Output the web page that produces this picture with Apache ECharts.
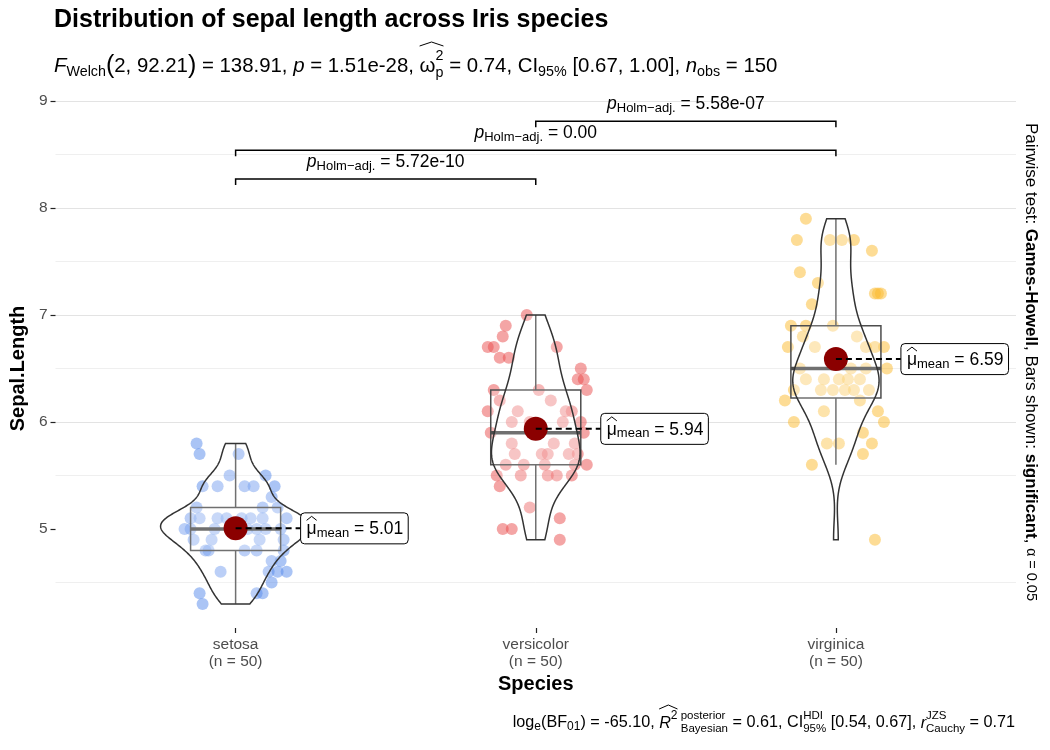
<!DOCTYPE html>
<html>
<head>
<meta charset="utf-8">
<title>Distribution of sepal length across Iris species</title>
<script src="https://cdn.jsdelivr.net/npm/echarts@6/dist/echarts.min.js"></script>
<style>
  html, body { margin: 0; padding: 0; background: #fff; }
  #main { width: 1050px; height: 750px; }
</style>
</head>
<body>
<div id="main"></div>
<script>
var species = ['setosa', 'versicolor', 'virginica'];

// Sepal.Length per species
var setosa = [5.1, 4.9, 4.7, 4.6, 5.0, 5.4, 4.6, 5.0, 4.4, 4.9, 5.4, 4.8, 4.8, 4.3, 5.8, 5.7, 5.4, 5.1, 5.7, 5.1,
  5.4, 5.1, 4.6, 5.1, 4.8, 5.0, 5.0, 5.2, 5.2, 4.7, 4.8, 5.4, 5.2, 5.5, 4.9, 5.0, 5.5, 4.9, 4.4, 5.1,
  5.0, 4.5, 4.4, 5.0, 5.1, 4.8, 5.1, 4.6, 5.3, 5.0];
var versicolor = [7.0, 6.4, 6.9, 5.5, 6.5, 5.7, 6.3, 4.9, 6.6, 5.2, 5.0, 5.9, 6.0, 6.1, 5.6, 6.7, 5.6, 5.8, 6.2, 5.6,
  5.9, 6.1, 6.3, 6.1, 6.4, 6.6, 6.8, 6.7, 6.0, 5.7, 5.5, 5.5, 5.8, 6.0, 5.4, 6.0, 6.7, 6.3, 5.6, 5.5,
  5.5, 6.1, 5.8, 5.0, 5.6, 5.7, 5.7, 6.2, 5.1, 5.7];
var virginica = [6.3, 5.8, 7.1, 6.3, 6.5, 7.6, 4.9, 7.3, 6.7, 7.2, 6.5, 6.4, 6.8, 5.7, 5.8, 6.4, 6.5, 7.7, 7.7, 6.0,
  6.9, 5.6, 7.7, 6.3, 6.7, 7.2, 6.2, 6.1, 6.4, 7.2, 7.4, 7.9, 6.4, 6.3, 6.1, 7.7, 6.3, 6.4, 6.0, 6.9,
  6.7, 6.9, 5.8, 6.8, 6.7, 6.7, 6.3, 6.5, 6.2, 5.9];

// horizontal jitter of each point (category units)
var jitSetosa = [0.05, -0.08, 0.12, 0.14, -0.02, 0.03, 0.11, -0.15, 0.09, 0.16, -0.06, -0.10, 0.07, -0.11, -0.13, 0.01, 0.13, -0.12, -0.12, 0.17,
  -0.11, 0.09, -0.05, -0.06, -0.09, 0.10, 0.04, 0.14, -0.13, 0.15, 0.03, 0.06, 0.09, -0.02, -0.14, -0.17, 0.10, 0.08, -0.12, 0.02,
  0.15, 0.12, 0.07, -0.07, -0.15, 0.16, -0.03, 0.17, 0.12, 0.07];
var jitVersicolor = [-0.03, 0.14, -0.10, 0.12, 0.15, 0.04, -0.14, 0.08, -0.12, -0.02, -0.11, 0.16, -0.08, 0.10, 0.13, -0.14, -0.04, 0.06, -0.12, 0.03,
  -0.15, -0.06, 0.17, 0.12, 0.16, -0.09, -0.11, 0.07, 0.09, 0.11, -0.13, 0.07, -0.08, -0.02, -0.12, 0.15, -0.16, 0.01, 0.17, 0.04,
  -0.05, -0.16, 0.13, -0.08, -0.10, 0.14, -0.07, 0.05, 0.08, 0.02];
var jitVirginica = [0.03, -0.03, -0.08, -0.14, 0.05, 0.12, 0.13, -0.06, 0.10, 0.14, -0.12, 0.01, -0.11, 0.09, 0.12, -0.04, 0.17, -0.13, 0.06, 0.16,
  -0.15, -0.08, -0.02, 0.11, -0.07, 0.13, -0.17, -0.04, 0.08, 0.15, -0.12, -0.10, -0.10, -0.01, 0.14, 0.02, 0.06, 0.04, -0.14, -0.01,
  0.13, -0.10, 0.01, 0.07, 0.16, -0.16, -0.05, 0.10, 0.08, 0.09];

var groups = [setosa, versicolor, virginica];
var jitters = [jitSetosa, jitVersicolor, jitVirginica];
var pointColors = ['#5589EB', '#E94B4B', '#FBB92B'];

// pairwise comparisons (Games-Howell, Holm adjusted)
var pairs = [[0, 1], [0, 2], [1, 2]];
var pairY = [8.27, 8.54, 8.81];
var pairP = ['5.72e-10', '0.00', '5.58e-07'];

var yTicks = [5, 6, 7, 8, 9];
var xTicks = [0, 1, 2];

var FONT = '"Liberation Sans", Arial, Helvetica, sans-serif';

// ---- statistics computed from the raw values ----
function sortNum(a) { return a.slice().sort(function (p, q) { return p - q; }); }
function quant(s, q) {
  var pos = (s.length - 1) * q, lo = Math.floor(pos), h = pos - lo;
  return lo + 1 < s.length ? s[lo] + h * (s[lo + 1] - s[lo]) : s[lo];
}
function mean(a) { var t = 0; a.forEach(function (v) { t += v; }); return t / a.length; }
function sd(a) {
  var m = mean(a), t = 0;
  a.forEach(function (v) { t += (v - m) * (v - m); });
  return Math.sqrt(t / (a.length - 1));
}

var means = groups.map(mean);
var boxes = groups.map(function (a) {
  var s = sortNum(a), q1 = quant(s, 0.25), q3 = quant(s, 0.75), iqr = q3 - q1;
  var lo = s.filter(function (v) { return v >= q1 - 1.5 * iqr; })[0];
  var inHi = s.filter(function (v) { return v <= q3 + 1.5 * iqr; });
  return { q1: q1, med: quant(s, 0.5), q3: q3, lo: lo, hi: inHi[inHi.length - 1] };
});

// gaussian kernel density, nrd0 bandwidth, trimmed to the data range
var violins = groups.map(function (a) {
  var s = sortNum(a), n = a.length;
  var spread = Math.min(sd(a), (quant(s, 0.75) - quant(s, 0.25)) / 1.34);
  var bw = 0.9 * spread * Math.pow(n, -0.2);
  var out = [], steps = 200;
  for (var k = 0; k <= steps; k++) {
    var y = s[0] + (s[n - 1] - s[0]) * k / steps, d = 0;
    for (var j = 0; j < n; j++) {
      var z = (y - s[j]) / bw;
      d += Math.exp(-0.5 * z * z);
    }
    out.push([y, d / (n * bw * Math.sqrt(2 * Math.PI))]);
  }
  return out;
});
var maxDens = 0;
violins.forEach(function (v) { v.forEach(function (p) { maxDens = Math.max(maxDens, p[1]); }); });

// ---- text with sub/superscripts laid out as separate pieces ----
var mctx = document.createElement('canvas').getContext('2d');
function mathRow(parts, x, y, color) {
  var els = [], pos = [], cx = x, prev = null;
  color = color || '#000';
  parts.forEach(function (p) {
    var font = (p.it ? 'italic ' : '') + (p.b ? 'bold ' : '') + p.s + 'px ' + FONT;
    mctx.font = font;
    var w = mctx.measureText(p.t).width, px = cx;
    if (p.stack && prev) { px = prev.x; cx = prev.x + Math.max(prev.w, w); }
    else { cx = px + w; }
    els.push({
      type: 'text', x: px, y: y + (p.dy || 0),
      style: { text: p.t, font: font, fill: color, textAlign: 'left', textVerticalAlign: 'middle', align: 'left', verticalAlign: 'middle' }
    });
    pos.push({ x: px, w: w });
    prev = { x: px, w: w };
  });
  parts.forEach(function (p, k) {
    if (!p.hat) return;
    var x0 = pos[k].x, x1 = pos[k].x + pos[k].w;
    for (var j = k + 1; j < k + p.hat; j++) x1 = Math.max(x1, pos[j].x + pos[j].w);
    var yb = y + p.hy;
    els.push({
      type: 'polyline',
      shape: { points: [[x0, yb], [(x0 + x1) / 2, yb - 4], [x1, yb]] },
      style: { stroke: color, fill: 'none', lineWidth: 1 }
    });
  });
  return { els: els, width: cx - x };
}
function shiftEls(els, dx) {
  els.forEach(function (e) {
    if (e.type === 'text') e.x += dx;
    else e.shape.points.forEach(function (pt) { pt[0] += dx; });
  });
}

var titleRow = mathRow([{ t: 'Distribution of sepal length across Iris species', s: 25, b: 1 }], 54, 20);

var subRow = mathRow([
  { t: 'F', s: 20.4, it: 1 },
  { t: 'Welch', s: 14.3, dy: 6 },
  { t: '(', s: 25 },
  { t: '2, 92.21', s: 20.4 },
  { t: ')', s: 25 },
  { t: ' = 138.91, ', s: 20.4 },
  { t: 'p', s: 20.4, it: 1 },
  { t: ' = 1.51e-28, ', s: 20.4 },
  { t: 'ω', s: 20.4, hat: 3, hy: -20 },
  { t: '2', s: 14.3, dy: -10 },
  { t: 'p', s: 14.3, dy: 7, stack: 1 },
  { t: ' = 0.74, CI', s: 20.4 },
  { t: '95%', s: 14.3, dy: 6 },
  { t: ' [0.67, 1.00], ', s: 20.4 },
  { t: 'n', s: 20.4, it: 1 },
  { t: 'obs', s: 14.3, dy: 6 },
  { t: ' = 150', s: 20.4 }
], 54, 66);

var capRow = mathRow([
  { t: 'log', s: 16.2 },
  { t: 'e', s: 12, dy: 4 },
  { t: '(BF', s: 16.2 },
  { t: '01', s: 12, dy: 4 },
  { t: ') = -65.10, ', s: 16.2 },
  { t: 'R', s: 16.2, it: 1, hat: 2, hy: -14 },
  { t: '2', s: 12, dy: -7 },
  { t: ' posterior', s: 11.5, dy: -7 },
  { t: ' Bayesian', s: 11.5, dy: 6, stack: 1 },
  { t: ' = 0.61, CI', s: 16.2 },
  { t: 'HDI', s: 11.5, dy: -7 },
  { t: '95%', s: 11.5, dy: 6, stack: 1 },
  { t: ' [0.54, 0.67], ', s: 16.2 },
  { t: 'r', s: 16.2, it: 1 },
  { t: 'JZS', s: 11.5, dy: -7 },
  { t: 'Cauchy', s: 11.5, dy: 6, stack: 1 },
  { t: ' = 0.71', s: 16.2 }
], 0, 723);
shiftEls(capRow.els, 1015 - capRow.width);

var sideRow = mathRow([
  { t: 'Pairwise test: ', s: 17 },
  { t: 'Games-Howell', s: 17, b: 1 },
  { t: ', Bars shown: ', s: 17 },
  { t: 'significant', s: 17, b: 1 },
  { t: ', ', s: 17 },
  { t: 'α', s: 14 },
  { t: ' = 0.05', s: 14.5 }
], 0, 0);

function meanParts(m) {
  return [
    { t: 'μ', s: 17.5, hat: 1, hy: -9 },
    { t: 'mean', s: 13, dy: 4 },
    { t: ' = ' + m.toFixed(2), s: 17.5 }
  ];
}
function pParts(p) {
  return [
    { t: 'p', s: 17.5, it: 1 },
    { t: 'Holm\u2212adj.', s: 13, dy: 4 },
    { t: ' = ' + p, s: 17.5 }
  ];
}

// ---- series data ----
var pointSeries = groups.map(function (vals, g) {
  return {
    type: 'scatter',
    name: species[g],
    symbolSize: 12,
    z: 1,
    itemStyle: { color: pointColors[g], opacity: 0.5 },
    data: vals.map(function (v, j) { return [g + jitters[g][j], v]; })
  };
});

var catData = means.map(function (m, g) { return [g, m]; });

function renderBox(params, api) {
  var g = params.dataIndex, b = boxes[g], st = '#4d4d4d';
  var tl = api.coord([g - 0.15, b.q3]), br = api.coord([g + 0.15, b.q1]);
  var m1 = api.coord([g - 0.15, b.med]), m2 = api.coord([g + 0.15, b.med]);
  var hi = api.coord([g, b.hi]), q3 = api.coord([g, b.q3]), q1 = api.coord([g, b.q1]), lo = api.coord([g, b.lo]);
  return {
    type: 'group',
    children: [
      { type: 'line', shape: { x1: hi[0], y1: hi[1], x2: q3[0], y2: q3[1] }, style: { stroke: st, lineWidth: 1.5 } },
      { type: 'line', shape: { x1: q1[0], y1: q1[1], x2: lo[0], y2: lo[1] }, style: { stroke: st, lineWidth: 1.5 } },
      { type: 'rect', shape: { x: tl[0], y: tl[1], width: br[0] - tl[0], height: br[1] - tl[1] },
        style: { fill: 'rgba(255,255,255,0.2)', stroke: st, lineWidth: 1.5 } },
      { type: 'line', shape: { x1: m1[0], y1: m1[1], x2: m2[0], y2: m2[1] }, style: { stroke: st, lineWidth: 3.5 } }
    ]
  };
}

function renderViolin(params, api) {
  var g = params.dataIndex, v = violins[g], right = [], left = [];
  v.forEach(function (p) {
    var hw = 0.25 * p[1] / maxDens;
    right.push(api.coord([g + hw, p[0]]));
    left.unshift(api.coord([g - hw, p[0]]));
  });
  return {
    type: 'polygon',
    shape: { points: right.concat(left) },
    style: { fill: 'rgba(255,255,255,0.2)', stroke: '#333', lineWidth: 1.5 }
  };
}

function renderMeanLabel(params, api) {
  var g = params.dataIndex, pt = api.coord([g, means[g]]);
  var bx = pt[0] + 65, h = 31;
  var row = mathRow(meanParts(means[g]), bx + 6, pt[1] + 1);
  return {
    type: 'group',
    children: [
      { type: 'line', shape: { x1: pt[0], y1: pt[1], x2: bx, y2: pt[1] }, style: { stroke: '#000', lineWidth: 2, lineDash: [6, 4] } },
      { type: 'rect', shape: { x: bx, y: pt[1] - h / 2, width: row.width + 11, height: h, r: 4 },
        style: { fill: '#fff', stroke: '#000', lineWidth: 1 } }
    ].concat(row.els)
  };
}

function renderBracket(params, api) {
  var k = params.dataIndex, a = pairs[k][0], b = pairs[k][1];
  var p1 = api.coord([a, pairY[k]]), p2 = api.coord([b, pairY[k]]);
  var row = mathRow(pParts(pairP[k]), 0, p1[1] - 17);
  shiftEls(row.els, (p1[0] + p2[0]) / 2 - row.width / 2);
  return {
    type: 'group',
    children: [{
      type: 'polyline',
      shape: { points: [[p1[0], p1[1] + 6], [p1[0], p1[1]], [p2[0], p2[1]], [p2[0], p2[1] + 6]] },
      style: { stroke: '#000', fill: 'none', lineWidth: 1.5 }
    }].concat(row.els)
  };
}

var chart = echarts.init(document.getElementById('main'), null, { renderer: 'canvas' });

var option = {
  animation: false,
  backgroundColor: '#fff',
  textStyle: { fontFamily: FONT },
  grid: { left: 53, right: 34, top: 101, bottom: 114 },
  xAxis: {
    type: 'value',
    min: -0.6,
    max: 2.6,
    splitNumber: 3,
    offset: -8,
    name: 'Species',
    nameLocation: 'middle',
    nameGap: 45,
    nameTextStyle: { fontFamily: FONT, fontSize: 20, fontWeight: 'bold', color: '#000' },
    axisLine: { show: false, onZero: false },
    axisTick: { show: true, length: 5, customValues: xTicks, lineStyle: { color: '#222', width: 1.2 } },
    axisLabel: {
      customValues: xTicks,
      margin: 8,
      fontFamily: FONT,
      fontSize: 15.5,
      lineHeight: 17,
      color: '#4d4d4d',
      formatter: function (v) {
        var g = Math.round(v);
        if (Math.abs(v - g) > 1e-6 || g < 0 || g > 2) return '';
        return species[g] + '\n(n = ' + groups[g].length + ')';
      }
    },
    splitLine: { show: false }
  },
  yAxis: {
    type: 'value',
    min: 4,
    max: 9,
    interval: 1,
    name: 'Sepal.Length',
    nameLocation: 'middle',
    nameGap: 22,
    nameTextStyle: { fontFamily: FONT, fontSize: 20, fontWeight: 'bold', color: '#000' },
    axisLine: { show: false, onZero: false },
    axisTick: { show: true, length: 5, customValues: yTicks, lineStyle: { color: '#222', width: 1.2 } },
    axisLabel: {
      customValues: yTicks,
      margin: 8,
      fontFamily: FONT,
      fontSize: 15.5,
      color: '#4d4d4d'
    },
    splitLine: { show: true, showMinLine: false, lineStyle: { color: '#e3e3e3', width: 1.2 } },
    minorTick: { show: false, splitNumber: 2 },
    minorSplitLine: { show: true, lineStyle: { color: '#efefef', width: 1 } }
  },
  graphic: [
    { type: 'group', x: 0, y: 0, children: titleRow.els.concat(subRow.els).concat(capRow.els) },
    { type: 'group', x: 1031, y: 362 - sideRow.width / 2, rotation: -Math.PI / 2, children: sideRow.els }
  ],
  series: pointSeries.concat([
    { type: 'custom', name: 'box', z: 2, renderItem: renderBox, data: catData, encode: { x: 0, y: 1 } },
    { type: 'custom', name: 'violin', z: 3, renderItem: renderViolin, data: catData, encode: { x: 0, y: 1 } },
    {
      type: 'scatter', name: 'mean', z: 4, symbolSize: 24,
      itemStyle: { color: '#8B0000', opacity: 1 },
      data: catData
    },
    { type: 'custom', name: 'meanLabel', z: 5, renderItem: renderMeanLabel, data: catData, encode: { x: 0, y: 1 } },
    {
      type: 'custom', name: 'pairs', z: 5, renderItem: renderBracket,
      data: pairs.map(function (p, k) { return [(p[0] + p[1]) / 2, pairY[k]]; }),
      encode: { x: 0, y: 1 }
    }
  ])
};

chart.setOption(option);
</script>
</body>
</html>
